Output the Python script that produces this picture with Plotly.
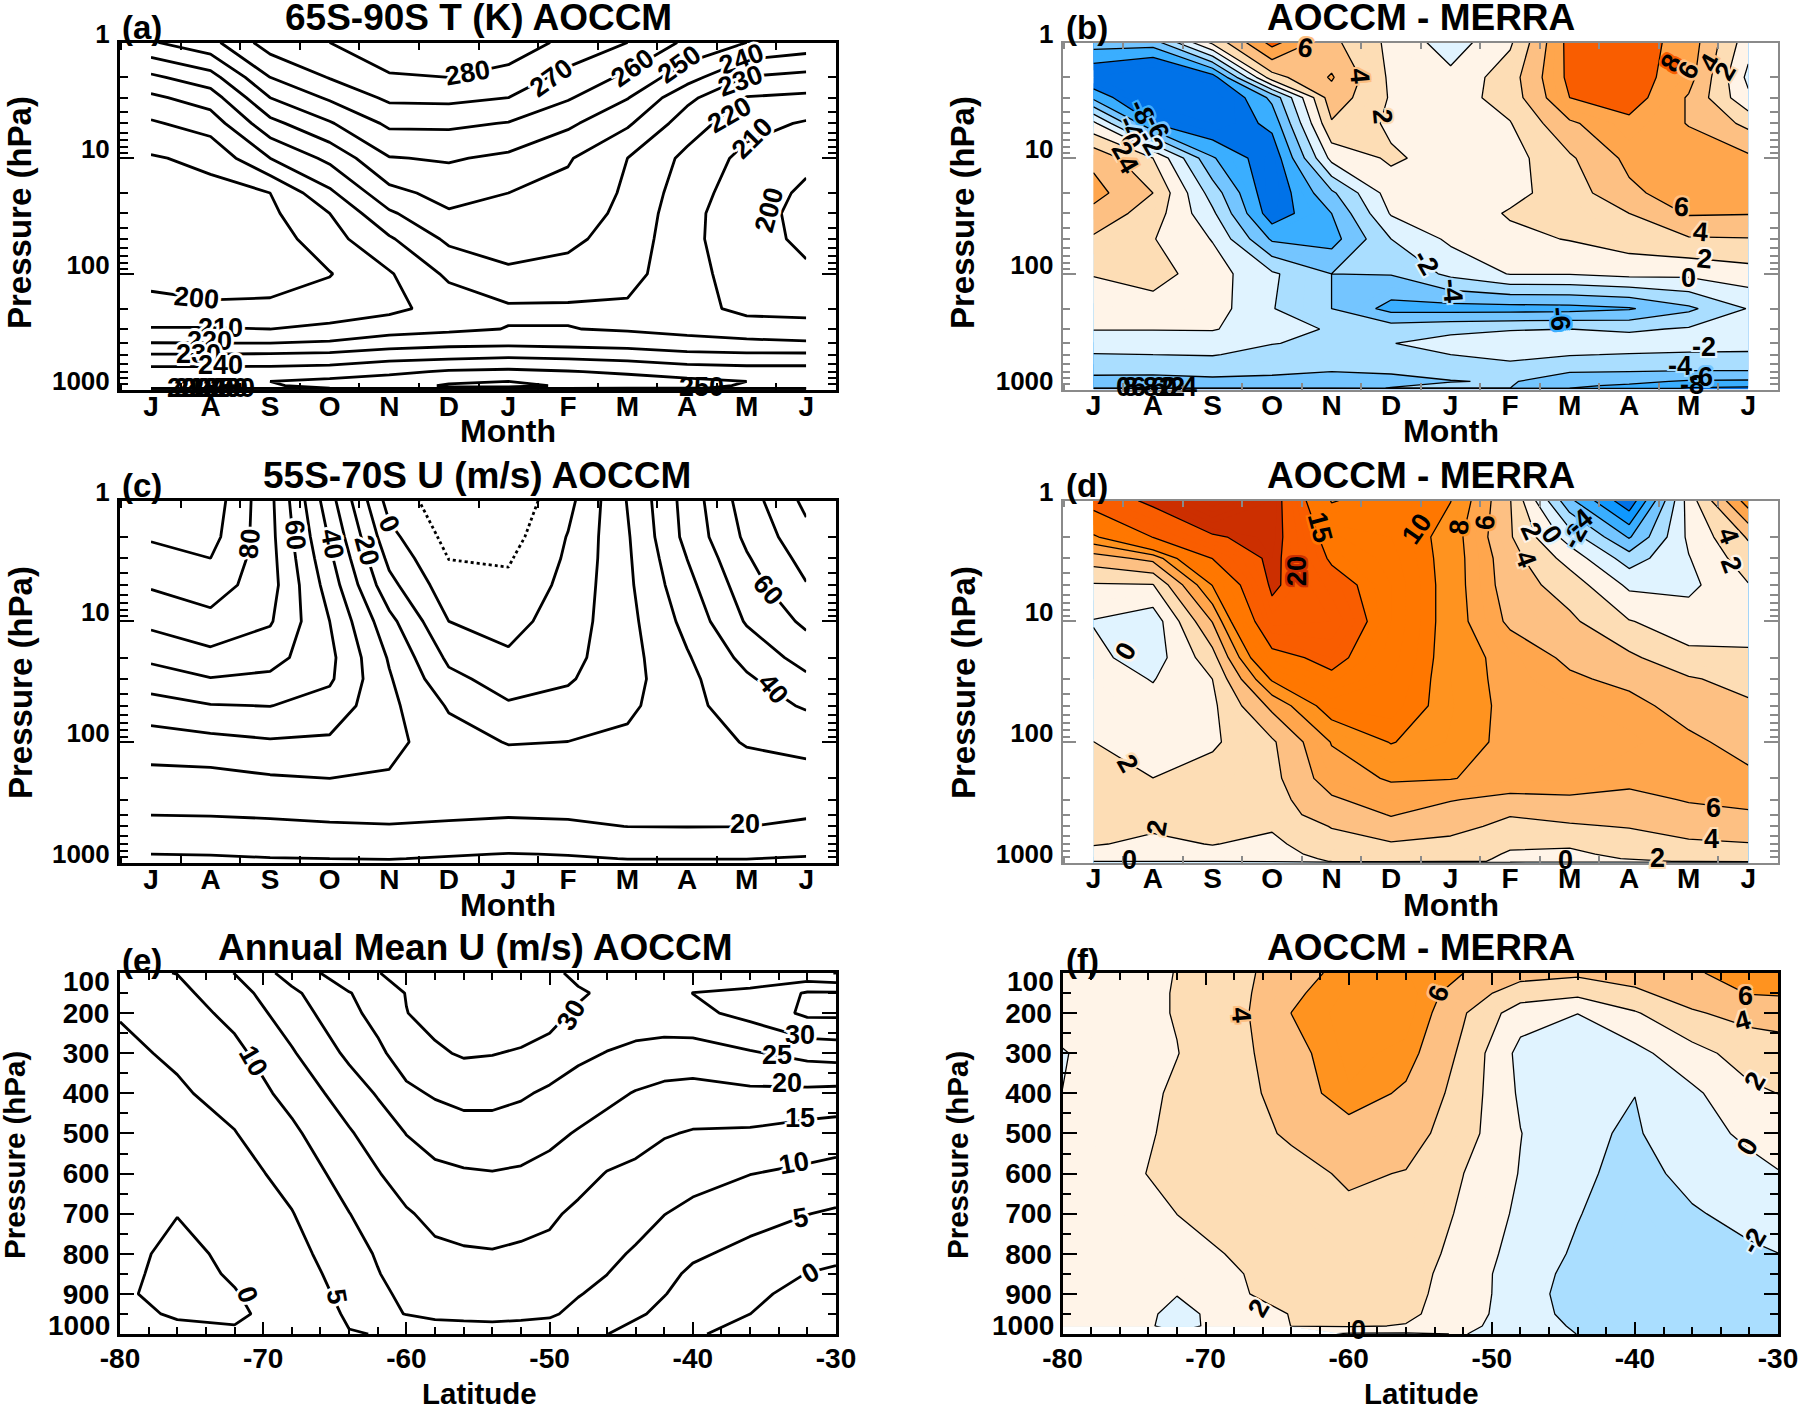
import plotly.graph_objects as go
import numpy as np

months = ["J", "A", "S", "O", "N", "D", "J", "F", "M", "A", "M", "J"]
month_idx = list(range(12))
pressure = [1, 2, 3, 5, 10, 20, 30, 50, 100, 200, 300, 400, 500, 700, 850, 925, 975, 1000]
lats = [-80, -76, -72, -68, -64, -60, -56, -52, -48, -44, -40, -36, -32, -30]
lats_e = [-80, -76, -72, -68, -64, -62, -60, -58, -56, -54, -52, -50, -48, -46, -44, -42, -40, -36, -32, -30]
p_e = [100, 150, 200, 300, 400, 500, 600, 700, 800, 850, 900, 950, 1000]
p_f = [100, 150, 200, 300, 400, 500, 600, 700, 800, 850, 900, 950, 980, 1000]

# one inner list per month (a-d) or per latitude (e,f)
T_model = [
    [249, 228, 218, 208.7, 199, 195, 193, 193, 196, 204, 210.5, 220.5, 230.5, 244, 248, 249, 249, 150],
    [257, 236, 225, 214.5, 202.6, 197, 194, 192, 194, 202, 210.7, 220.3, 230.5, 244, 248.5, 249.5, 249, 150],
    [275, 260, 250, 237, 220, 200, 198, 195, 194.5, 202.5, 210, 220.3, 231, 244, 250, 249, 247, 150],
    [280, 270.6, 261.5, 249, 232.5, 218, 210, 206, 199.5, 205, 212, 221.5, 232, 245, 252, 253, 250, 150],
    [290, 278.5, 272, 262, 249.5, 237, 228.5, 218.7, 209, 207.5, 216, 225.5, 235, 248, 254, 256, 255, 150],
    [293, 280, 272.5, 262, 251, 243.5, 239, 232, 222, 214, 218, 227.5, 236, 251, 258.5, 261, 259, 150],
    [287, 276, 270, 259.5, 248, 240, 237, 234, 228.5, 218.5, 220.3, 228, 237.5, 252, 260, 262, 258, 150],
    [277, 267, 261, 252, 241, 237, 235, 232, 227, 218.5, 220.3, 227, 236.5, 250.5, 256.5, 259, 257, 150],
    [270, 258, 250.5, 241.5, 230, 228.5, 227.5, 226, 223.5, 218.5, 219, 226, 235, 248.5, 254, 255, 253, 150],
    [258, 244, 232.5, 225, 217.5, 214.5, 213, 212.5, 213, 213.5, 216.5, 224.5, 232, 246, 252, 253, 251, 150],
    [250, 229.5, 219.5, 213.5, 207, 204.5, 203.5, 204, 206, 207.5, 214.5, 222.5, 231.5, 244.5, 250, 249, 248, 150],
    [246, 227, 218, 209, 202, 198.5, 197.5, 198, 201.5, 207.5, 213, 221.5, 231.5, 244.5, 248.5, 249, 248, 150],
]
T_diff = [
    [-5, -10, -6.5, 0.5, 5.5, 6.7, 5.4, 3.7, 2.1, 0.8, 0.1, -1.1, -2.1, -3.7, -4.5, -4.8, -5, -40],
    [-5, -12, -11, -8, 2, 4, 3, 2.1, 2.8, 1.2, 0.1, -1.1, -2, -3.7, -4.6, -4.9, -5, -40],
    [2.5, -9, -11, -10, -5.8, -2.9, -1.6, -0.1, 0.9, 0.9, 0.2, -1.6, -1.9, -3.5, -4.4, -4.7, -5, -40],
    [8.7, 3.2, -5.5, -7.4, -9.5, -9.7, -9.2, -6.3, -1.7, -1.9, -1.6, -1.95, -2.6, -3.7, -4.5, -4.8, -5, -40],
    [4.5, 6.2, 5.2, 3.8, 0.6, -4.4, -6, -6.8, -4, -4, -2.1, -2.3, -2.6, -4, -4.4, -4.7, -5, -40],
    [1.5, 1.6, 1.8, 1.6, 2.3, 1, 0.2, -2, -3.9, -6.7, -2.9, -2.05, -2.5, -3.9, -4.3, -4.2, -3.9, -40],
    [-1, 0.5, 1, 1.2, 1.2, 1, 0.8, 0.4, -1.5, -6.8, -2.4, -1.4, -2, -3.2, -4.1, -3.6, -3.3, -40],
    [1.7, 3.1, 2.9, 1.9, 1.2, 1.4, 2.2, 1.5, 0.1, -6.8, -2.1, -1.2, -1.5, -2.8, -3.8, -3.9, -4, -40],
    [8.7, 8.5, 8, 5.7, 3.7, 3, 2.6, 2.1, 0.1, -6.7, -2, -1.1, -1.9, -3.9, -5.2, -5.8, -6, -40],
    [9, 9, 9, 7.5, 6.5, 5.6, 4, 3, 0.6, -6.2, -2.3, -1, -2.1, -4, -5.6, -6.2, -6.5, -40],
    [7.2, 6.8, 5.8, 5.9, 7, 7, 6.2, 3.8, 0.5, -4.4, -1.8, -1.3, -2.2, -4.1, -6.2, -7.3, -8.2, -40],
    [0.8, -0.5, 0.4, 3.5, 6.4, 6.6, 6.1, 3.9, 1.2, -1.9, -1, -1.5, -2.2, -4.1, -6.3, -7.5, -8.5, -40],
]
U_model = [
    [98.6, 91, 86.5, 81, 72.5, 62, 55, 46, 35, 27, 23, 20.1, 17, 12.5, 10, 9, 8.5, 8],
    [96, 93.5, 90, 85, 77, 67, 59.5, 49.5, 37, 27, 23, 20.4, 17, 12.7, 10.3, 9, 8.5, 8],
    [72.5, 73, 73.5, 74, 71, 63.6, 58, 50.2, 39, 29, 24.5, 21, 18, 13.5, 11, 9.7, 9, 8],
    [34, 39, 42, 45.5, 50, 52.5, 51.5, 46, 38.5, 30, 25, 21.8, 19, 14, 11.3, 10, 9.5, 9],
    [-4, 3, 7.5, 13, 23, 29, 31, 32.5, 33, 29, 25, 22, 19.5, 14, 11.3, 10.2, 9.5, 9],
    [-16, -13, -10.2, -6, 0.01, 8, 12.5, 19, 24, 26, 25, 21.5, 18.5, 13, 10.5, 9.5, 9, 8.5],
    [-17, -14, -11, -8, -3.5, 1.5, 6, 11, 19.5, 26, 25, 20.8, 17.5, 12.5, 9.8, 9, 8.5, 8],
    [-3, 0.5, 1.5, 3, 5, 7, 9, 13, 20.1, 26, 24.5, 21, 18.5, 13, 10.2, 9.5, 9, 8.5],
    [20.5, 19, 18.5, 18, 17, 16.5, 16.5, 18, 22, 26, 25, 22, 20.1, 14, 11, 10.1, 9.5, 9],
    [44, 43, 40.1, 37, 33, 29, 27.5, 27, 26.5, 26, 24.5, 22.4, 20.2, 14.5, 11.5, 10.1, 9.5, 9],
    [65, 62, 59, 55.5, 51, 43, 38.5, 35.5, 30.5, 27, 24.5, 22, 20.1, 14, 11, 10.1, 9.5, 9],
    [82.5, 77, 73.5, 69.5, 62, 54, 48, 41, 33, 26.5, 23.5, 20.8, 18.5, 13, 10.5, 9.5, 9, 8.5],
]
U_diff = [
    [17, 9.5, 5, 1.8, -0.1, 0.5, 1, 1.4, 2.01, 2.5, 2.6, 2.6, 2.5, 2.1, 1.5, 0.6, 0.01, -1],
    [21, 15.1, 6.6, 1.9, -1.2, -1, -0.1, 0.6, 1.2, 2.01, 2.5, 2.6, 2.2, 1.7, 1.2, 0.6, 0.01, -1],
    [26, 19.5, 15.1, 10.1, 6.1, 3.2, 2.01, 1.6, 1.7, 2.8, 3, 2.6, 2.3, 2.05, 1.6, 0.9, 0.05, -1],
    [22, 21.5, 21, 20.6, 18.6, 13.8, 10.3, 6.5, 3.7, 3.4, 3.2, 3.1, 2.2, 1.6, 1.1, 0.7, 0.2, -1],
    [9.8, 13.2, 14.5, 16.5, 18, 16, 14.3, 11.2, 8.1, 7.1, 5.7, 4.9, 4.1, 3.2, 2.8, 2.4, 2.1, -1],
    [11.5, 12, 12.5, 13, 13, 12.5, 12, 11.5, 10.1, 8.2, 7.1, 6.1, 5.4, 3.8, 3.3, 2.9, 2.5, -1],
    [10.05, 9, 9, 9, 9, 9, 9, 9.1, 8.9, 8.1, 6.1, 5.2, 4.6, 3.5, 3.1, 2.7, 2.3, -1],
    [4.1, 4.2, 4.8, 5, 5.6, 7.3, 7.4, 7.5, 7.5, 7.2, 5.5, 4.1, 3.5, 2.3, 1.8, 1.7, 1.8, -1],
    [-5.5, -0.9, 1.2, 3.1, 4.4, 5.6, 6.3, 7.1, 7.3, 7.1, 5.7, 4.5, 3.8, 2.2, 1.7, 1.4, 1.1, -1],
    [-11.5, -6.2, -3, -0.4, 2.1, 4.4, 5.5, 6.6, 7.2, 6.4, 5.6, 4.7, 4.1, 3.1, 2.4, 2.1, 1.5, -1],
    [0.9, 0.4, -0.1, -0.5, 1, 2.5, 4.2, 5.2, 6.4, 6.7, 6.1, 5.6, 4.8, 3.7, 3.2, 2.8, 2.2, -1],
    [9, 4.2, 3.1, 1.9, 1.5, 2.2, 3.3, 4.3, 5.3, 6.4, 6.4, 5.8, 5.1, 3.9, 3.4, 3.1, 2.5, -1],
]
U_annual = [
    [9, 6.5, 5.3, 3.9, 3, 2.5, 2, 1.5, 1.2, 1, 0.7, 0.5, 1],
    [10.1, 8.7, 7.4, 5.8, 4.3, 3, 1.7, 0.1, -1, -1.3, -1.5, -0.2, 0.5],
    [15.1, 13, 11.5, 8.6, 6.8, 4.8, 3, 1.9, 0.8, 0.4, -0.2, -0.6, 0.5],
    [22, 19, 17.5, 14.5, 11.6, 9, 6.7, 4.8, 3.2, 2.5, 2.1, 1.5, 1.2],
    [28, 24.8, 23.8, 21, 17.5, 14.5, 12.2, 9.9, 8.2, 7.2, 6.3, 5.6, 4.8],
    [29.7, 27, 26.5, 24, 20.4, 17.3, 14.7, 12.4, 10.4, 9.8, 9, 8.3, 5.1],
    [33, 30.2, 29.9, 27.3, 24, 20.1, 17.5, 14.5, 12.8, 11.9, 11, 10.2, 5.1],
    [33.5, 33, 31.5, 29.3, 25.5, 22.2, 18.8, 16.3, 14, 13, 12, 10.8, 8],
    [34, 34, 33.5, 30.5, 26.5, 23, 19.5, 17, 14.5, 13.3, 12, 10.8, 8.5],
    [34, 34, 33.5, 30.2, 26.5, 23, 19.8, 17.3, 14.7, 13.5, 12.2, 11, 8.5],
    [34, 34, 33, 29.5, 25.6, 22.5, 19.4, 16.8, 14.2, 13, 12, 10.7, 8.5],
    [32, 34, 32, 28, 24.2, 21.2, 18.4, 15.8, 13.8, 12.8, 11.8, 10.5, 8],
    [28, 31, 29, 26, 22.8, 19.6, 16.8, 14, 12, 11.2, 10.2, 9, 6.5],
    [27, 28.5, 28, 24.84, 21.3, 18, 14.8, 12.8, 11, 10.05, 9, 7.8, 5.1],
    [26, 27, 27.5, 23.9, 19.7, 16.7, 14, 11.7, 9.5, 8.2, 7, 5.8, 3],
    [27, 28, 28, 23, 18.7, 15.4, 12.4, 10.1, 7.5, 6.2, 5.2, 3.7, 1.8],
    [28, 30.05, 28.7, 22.7, 18.4, 14.6, 11.7, 8.8, 5.7, 4.2, 3, 1.8, 0.5],
    [27, 31, 31.5, 24.5, 19, 14.3, 10.1, 6.7, 3.7, 2.2, 1, 0.01, -1.5],
    [26, 35.5, 36, 26.5, 18.8, 13, 9, 5.1, 1.9, -0.1, -1.5, -2.5, -4],
    [24.9, 35.5, 36, 27, 18.5, 12.5, 8.3, 4.4, 1, -0.7, -2, -3, -4.5],
]
U_annual_diff = [
    [1, 1, 1, -0.15, 0.02, 0.5, 0.5, 0.6, 0.6, 0.8, 0.8, 0.8, 0.8, None],
    [1.3, 1.3, 1.3, 1.2, 1.05, 1.3, 1.5, 0.9, 1, 1, 1, 0.8, 0.8, None],
    [2.05, 2.1, 2.1, 1.95, 2.3, 2.4, 2.6, 2.01, 1.5, 1, 0.05, -0.4, -0.5, None],
    [3.4, 3.3, 3.3, 3.3, 3.1, 3.1, 3.05, 2.9, 2.1, 1.9, 1.85, 0.6, 0.7, None],
    [5, 5.6, 6.02, 5.3, 5, 4.3, 3.3, 2.9, 2.6, 2.5, 2.4, 2.1, 2.02, None],
    [6.8, 7.2, 7.5, 7.3, 6.9, 5.2, 4.3, 3.6, 3.05, 2.9, 2.8, 2.6, 2.2, -0.3],
    [7.05, 7.5, 7.5, 6.7, 5.7, 4.9, 3.9, 3.5, 3.1, 2.8, 2.6, 2.4, 1.9, -0.3],
    [6.02, 5, 4.2, 3.6, 3.2, 2.8, 2.02, 1.7, 1.3, 1.1, 1.05, 0.9, 0.6, 0.1],
    [4.7, 3.05, 0.9, -0.6, -0.3, 0.05, -0.1, -0.4, -0.8, -1.05, -1.05, -1.1, -1.2, -1.2],
    [4.4, 2.5, 0.02, -1.05, -1.5, -1.7, -1.6, -1.9, -2.3, -2.6, -2.9, -2.6, -2.2, -2.02],
    [4.7, 3.7, 1.8, -0.6, -1.98, -2.2, -2.7, -3.2, -3.5, -3.6, -3.6, -3.5, -3.4, -3.3],
    [5.7, 4.8, 3.8, 1.3, -0.4, -0.8, -1.4, -2.2, -2.8, -3.05, -3.2, -3.3, -3.3, -3.3],
    [7.05, 6.1, 4.6, 2.9, 1.6, 0.4, -0.6, -1.4, -2.3, -2.7, -3.05, -3.2, -3.3, -3.3],
    [7.05, 6.2, 4.8, 3.1, 2.02, 0.9, -0.1, -1.1, -2.02, -2.4, -2.8, -3.1, -3.2, -3.2],
]

C_BLUE = {"dark": "#0072E8", "m10": "#0F98FF", "m8": "#3AAEFF", "m6": "#74C5FF", "m4": "#AADEFF", "m2": "#E0F3FF"}
CREAM, O2, O4, O6, O8, O10, O15, O20 = "#FFF4E8", "#FDDDB5", "#FDC083", "#FFA64D", "#FF931F", "#FF7700", "#F95D00", "#CC2F00"

FONT = "Liberation Sans"
W, H = 1800, 1405


def xp(px):
    return px / W


def yp(py):
    return 1 - py / H


def note(px, py, text, size, anchor="center", angle=0):
    return dict(xref="paper", yref="paper", x=xp(px), y=yp(py), text=text, showarrow=False, textangle=angle,
                xanchor=anchor, yanchor="middle", font=dict(family=FONT, size=size, color="black", weight=700))


def halo(c):
    r = 3 if c == "#FFFFFF" else 2
    return ",".join(f"{a}px {b}px 0 {c}" for a, b in
                    [(r, 0), (-r, 0), (0, r), (0, -r), (2, 2), (-2, -2), (2, -2), (-2, 2)])


def stepped(edges, colors, lo, hi):
    # colour of band L..L+1 is looked up at L+0.5 on a scale that spans lo-0.5 .. hi+0.5
    n = hi - lo + 1
    scale = [[0, colors[0]]]
    for e, c0, c1 in zip(edges, colors[:-1], colors[1:]):
        t = (e - (lo - 0.5)) / n
        scale.append([t, c0])
        scale.append([t + 1e-6, c1])
    scale.append([1, colors[-1]])
    return scale


fig = go.Figure()
annotations = []
layout = {}


def add_axes(i, box, kind, color, lw):
    x0, x1, y0, y1 = box
    xname, yname = f"xaxis{i}", f"yaxis{i}"
    ax = dict(domain=[xp(x0), xp(x1)], anchor=f"y{i}", showgrid=False, zeroline=False, showline=True,
              linecolor=color, linewidth=lw, mirror="allticks", ticks="inside", tickcolor=color, tickwidth=2,
              tickfont=dict(family=FONT, size=28, color="black", weight=700))
    ay = dict(domain=[yp(y1), yp(y0)], anchor=f"x{i}", showgrid=False, zeroline=False, showline=True,
              linecolor=color, linewidth=lw, mirror="allticks", ticks="inside", tickcolor=color, tickwidth=2,
              ticklen=14, tickfont=dict(family=FONT, size=26, color="black", weight=700), ticklabelstandoff=2)
    if kind == "month":
        half = [k - 0.5 for k in range(13)]
        ax.update(range=[-0.52, 11.5], tickmode="array", tickvals=month_idx, ticktext=months, ticklen=0,
                  minor=dict(tickmode="array", tickvals=half, ticks="inside", ticklen=7, tickcolor=color, tickwidth=2),
                  ticklabelstandoff=-10)
        minor = [m * d for d in (1, 10, 100) for m in range(2, 10)]
        ay.update(type="log", range=[3, 0], tickmode="array", tickvals=[1, 10, 100, 1000],
                  ticktext=["1", "10", "100", "1000"], ticklabelshift=9,
                  minor=dict(tickmode="array", tickvals=minor, ticks="inside", ticklen=8, tickcolor=color, tickwidth=2))
    else:
        ax.update(range=[-80, -30], tickmode="array", tickvals=[-80, -70, -60, -50, -40, -30], ticklen=12,
                  ticktext=["-80", "-70", "-60", "-50", "-40", "-30"], ticklabelstandoff=-3,
                  minor=dict(tickmode="array", tickvals=list(range(-78, -30, 2)), ticks="inside", ticklen=7,
                             tickcolor=color, tickwidth=2))
        ay["tickfont"]["size"] = 28
        ay.update(range=[1000, 100], tickmode="array", tickvals=list(range(100, 1100, 100)),
                  ticktext=[""] + [str(v) for v in range(200, 1000, 100)] + [""],
                  minor=dict(tickmode="array", tickvals=list(range(150, 1000, 100)), ticks="inside", ticklen=8,
                             tickcolor=color, tickwidth=2))
    layout[xname] = ax
    layout[yname] = ay


def lines(i, x, y, z, start, end, size, width, dash="solid"):
    fig.add_trace(go.Contour(x=x, y=y, z=np.array(z, dtype=float).T, xaxis=f"x{i}", yaxis=f"y{i}", showscale=False,
                             autocontour=False, contours=dict(start=start, end=end, size=size, coloring="none"),
                             line=dict(color="black", width=width, dash=dash, smoothing=0), hoverinfo="skip"))


def fill(i, x, y, z, edges, colors, lo, hi):
    fig.add_trace(go.Contour(x=x, y=y, z=np.array(z, dtype=float).T, xaxis=f"x{i}", yaxis=f"y{i}", showscale=False,
                             autocontour=False, contours=dict(start=lo, end=hi, size=1, coloring="fill"),
                             colorscale=stepped(edges, colors, lo, hi), line=dict(width=0, smoothing=0), hoverinfo="skip"))


def labels(i, items, size=27):
    for it in items:
        x, y, text, angle = it[:4]
        c = it[4] if len(it) > 4 else "#FFFFFF"
        f = dict(family=FONT, size=size, color="black", weight=700)
        if c:
            f["shadow"] = halo(c)
        annotations.append(dict(xref=f"x{i}", yref=f"y{i}", x=x, y=y, text=text, textangle=angle, showarrow=False,
                                xanchor="center", yanchor="middle", font=f))


LEFT, RIGHT = (120, 836), (1062.5, 1778)
ROW1, ROW2, ROW3 = (42.5, 389.5), (500.7, 862.7), (973, 1334)
BLACK, GRAY = ("black", 3), ("#8A8A8A", 1.5)

add_axes(1, (*LEFT, *ROW1), "month", *BLACK)
add_axes(2, (*RIGHT, *ROW1), "month", *GRAY)
add_axes(3, (*LEFT, *ROW2), "month", *BLACK)
add_axes(4, (*RIGHT, *ROW2), "month", *GRAY)
add_axes(5, (*LEFT, *ROW3), "lat", *BLACK)
add_axes(6, (*RIGHT, *ROW3), "lat", *BLACK)

# (a)
lines(1, month_idx, pressure, T_model, 200, 280, 10, 2.8)
labels(1, [(5.31, 0.26, "280", -10), (6.72, 0.31, "270", -35), (8.08, 0.22, "260", -35), (8.88, 0.19, "250", -35),
           (9.92, 0.145, "240", -20), (9.89, 0.335, "230", -20), (9.71, 0.625, "220", -30), (10.1, 0.83, "210", -45),
           (10.38, 1.45, "200", -75), (0.77, 2.21, "200", 5), (1.17, 2.47, "210", 0), (0.98, 2.58, "220", 0),
           (0.79, 2.69, "230", 0), (1.17, 2.79, "240", 0)])
labels(1, [(0.65 + 0.12 * k, 2.985, str(200 + 10 * k), 0, None) for k in range(7)] + [(9.25, 2.977, "250", 0, None)])

# (b)
fill(2, month_idx, pressure, T_diff, [-8, -6, -4, -2, 0, 2, 4, 6, 8],
     [C_BLUE["dark"], C_BLUE["m8"], C_BLUE["m6"], C_BLUE["m4"], C_BLUE["m2"], CREAM, O2, O4, O6, O15], -10, 10)
lines(2, month_idx, pressure, T_diff, -8, 8, 2, 1.3)
labels(2, [(3.56, 0.05, "6", 10, O4), (4.47, 0.29, "4", 85, O4), (4.86, 0.64, "2", 85, O2),
           (9.71, 0.18, "8", -60, O15), (10.0, 0.24, "6", -60, O4), (10.36, 0.18, "4", -60, O4), (10.62, 0.25, "2", -60, O2),
           (0.82, 0.6, "-8", 65, C_BLUE["m8"]), (1.06, 0.73, "-6", 65, C_BLUE["m6"]), (0.63, 0.74, "-4", 65, C_BLUE["m4"]),
           (0.96, 0.86, "-2", 60, C_BLUE["m2"]), (0.63, 0.86, "0", 65, CREAM), (0.48, 0.93, "2", 60, O2), (0.58, 1.06, "4", 60, O4),
           (5.58, 1.9, "-2", 60, C_BLUE["m2"]), (6.03, 2.15, "-4", 85, C_BLUE["m4"]), (7.84, 2.39, "-6", 85, C_BLUE["m8"]),
           (9.88, 1.42, "6", 5, O4), (10.2, 1.64, "4", 5, O2), (10.26, 1.87, "2", 5, CREAM), (10.0, 2.04, "0", 0, CREAM),
           (10.26, 2.63, "-2", 0, C_BLUE["m2"]), (9.86, 2.8, "-4", 0, C_BLUE["m4"]), (10.2, 2.89, "-6", 0, C_BLUE["m6"]),
           (10.05, 2.96, "-8", 0, None)])
labels(2, [(0.5 + 0.13 * k, 2.975, t, 0, None) for k, t in enumerate(["0", "8", "6", "-8", "-6", "-2", "0", "2", "-4"])])

# (c)
lines(3, month_idx, pressure, U_model, 0, 90, 10, 2.8)
lines(3, month_idx, pressure, U_model, -10, -10, 10, 2.8, dash="dot")
labels(3, [(1.65, 0.355, "80", -85), (2.42, 0.285, "60", 85), (3.05, 0.355, "40", 80), (3.62, 0.41, "20", 75),
           (4.0, 0.19, "0", 65), (10.36, 0.74, "60", 50), (10.45, 1.56, "40", 50), (9.97, 2.68, "20", 0)])

# (d)
fill(4, month_idx, pressure, U_diff, [-10, -8, -6, -4, -2, 0, 2, 4, 6, 8, 10, 15, 20],
     [C_BLUE["dark"], C_BLUE["m10"], C_BLUE["m8"], C_BLUE["m6"], C_BLUE["m4"], C_BLUE["m2"], CREAM, O2, O4, O6, O8, O10, O15, O20], -14, 26)
lines(4, month_idx, pressure, U_diff, -10, 10, 2, 1.3)
lines(4, month_idx, pressure, U_diff, 15, 20, 5, 1.3)
labels(4, [(3.8, 0.22, "15", 75, O10), (3.41, 0.58, "20", -90, O20), (5.43, 0.235, "10", -55, O10), (6.15, 0.22, "8", -85, O8),
           (6.59, 0.18, "6", -85, O6), (7.36, 0.25, "2", 65, CREAM), (7.69, 0.28, "0", 55, C_BLUE["m2"]), (8.08, 0.29, "-2", -60, C_BLUE["m4"]),
           (8.17, 0.18, "-4", -40, C_BLUE["m6"]), (7.26, 0.485, "4", 70, O2), (10.67, 0.29, "4", 70, O2), (10.72, 0.53, "2", 70, CREAM),
           (0.53, 1.25, "0", -60, CREAM), (0.58, 2.18, "2", 60, O2), (1.06, 2.71, "2", -80, O2), (10.41, 2.55, "6", 0, O4),
           (10.38, 2.8, "4", 0, O2), (9.47, 2.96, "2", 0, O2), (7.93, 2.98, "0", 0, None), (0.6, 2.98, "0", 0, None)])

# (e)
lines(5, lats_e, p_e, U_annual, 0, 35, 5, 2.8)
labels(5, [(-70.7, 320, "10", 60), (-64.9, 906, "5", 80), (-71.1, 902, "0", 70), (-48.5, 204, "30", -60),
           (-32.5, 254, "30", 0), (-34.1, 304, "25", 0), (-33.4, 374, "20", 0), (-32.5, 462, "15", 0),
           (-32.9, 574, "10", -10), (-32.5, 711, "5", -10), (-31.8, 848, "0", -30)])

# (f)
fill(6, lats, p_f, U_annual_diff, [-2, 0, 2, 4, 6], [C_BLUE["m4"], C_BLUE["m2"], CREAM, O2, O4, O8], -4, 8)
lines(6, lats, p_f, U_annual_diff, -2, 6, 2, 1.3)
labels(6, [(-67.5, 204, "4", 85, O4), (-53.7, 150, "6", -70, O4), (-32.3, 158, "6", 0, O4), (-32.5, 220, "4", -15, O2),
           (-31.6, 370, "2", -60, CREAM), (-32.1, 532, "0", -60, CREAM), (-31.7, 769, "-2", -60, C_BLUE["m2"]),
           (-66.3, 935, "2", -60, CREAM), (-59.3, 989, "0", 0, None)])

# titles, panel tags, axis titles
for px, py, t in [(478, 17, "65S-90S T (K) AOCCM"), (1421, 17, "AOCCM - MERRA"), (477, 475, "55S-70S U (m/s) AOCCM"),
                  (1421, 475, "AOCCM - MERRA"), (476, 947, "Annual Mean U (m/s) AOCCM"), (1421, 947, "AOCCM - MERRA")]:
    annotations.append(note(px, py, t, 37))
for px, py, t in [(120, 28, "(a)"), (1064, 28, "(b)"), (120, 485, "(c)"), (1064, 485, "(d)"), (120, 960, "(e)"), (1064, 960, "(f)")]:
    annotations.append(note(px, py, t, 33, anchor="left"))
for px, py, size in [(20, 213, 33), (963, 213, 33), (20, 683, 33), (963, 683, 33), (14, 1155, 29.5), (957, 1155, 29.5)]:
    annotations.append(note(px, py, "Pressure (hPa)", size, angle=-90))
for px, py in [(508, 431), (1451, 431), (508, 905), (1451, 905)]:
    annotations.append(note(px, py, "Month", 32))
for px in (479, 1421):
    annotations.append(note(px, 1393, "Latitude", 29.5))
for right in (112, 1056):
    annotations.append(note(right, 982, "100", 28, anchor="right"))
    annotations.append(note(right, 1325, "1000", 28, anchor="right"))

fig.update_layout(width=W, height=H, margin=dict(l=0, r=0, t=0, b=0, autoexpand=False), paper_bgcolor="white",
                  plot_bgcolor="white", showlegend=False, annotations=annotations, **layout)
# the page body would otherwise keep its default 8px margin
fig.write_html("out.html", config={"displayModeBar": False},
               post_script="document.body.style.margin='0';document.documentElement.style.overflow='hidden';")
